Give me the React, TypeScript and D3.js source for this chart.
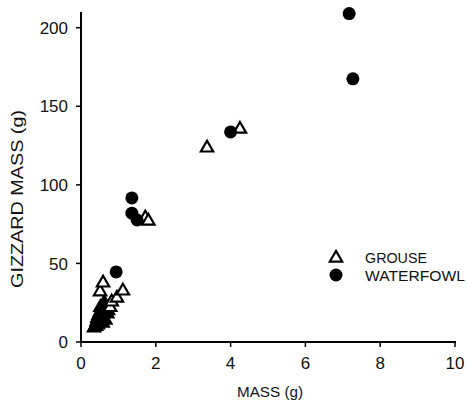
import React from "react";
import * as d3 from "d3";

// Body mass (g) vs gizzard mass (g).
const grouseX = [0.35, 0.38, 0.4, 0.43, 0.45, 0.42, 0.48, 0.46, 0.5, 0.47, 0.53, 0.51, 0.55, 0.57, 0.6, 0.62, 0.58, 0.65, 0.7, 0.72, 0.52, 0.44, 0.49, 0.56, 0.78, 0.82, 0.96, 0.51, 0.59, 1.12, 1.72, 1.8, 3.37, 4.25];
const grouseY = [9, 10, 10, 12, 11, 13, 14, 15.5, 16, 17, 18, 19, 20, 21, 23, 25, 12, 14, 18, 20, 22, 15, 12.5, 16, 22, 25.5, 28, 32, 37.6, 32.5, 79, 77, 123.5, 135.5];
const waterfowlX = [0.94, 1.36, 1.36, 1.5, 4.0, 7.17, 7.27];
const waterfowlY = [44.6, 91.7, 82, 77.7, 133.7, 209, 167.5];
const xTicks = [0, 2, 4, 6, 8, 10];
const yTicks = [0, 50, 100, 150, 200];

const width = 467;
const height = 407;
const font = "Arial, 'Liberation Sans', sans-serif";

const App = () => {
  const x = d3.scaleLinear().domain([0, 10]).range([81, 455]);
  const y = d3.scaleLinear().domain([0, 210]).range([342, 12]);

  const tri = d3.symbol().type(d3.symbolTriangle).size(66)();
  const grouse = grouseX.map((v, i) => ({ x: v, y: grouseY[i] }));
  const fowl = waterfowlX.map((v, i) => ({ x: v, y: waterfowlY[i] }));

  return (
    <svg
      width={width}
      height={height}
      style={{ position: "absolute", left: 0, top: 0, background: "#fff" }}
      fontFamily={font}
      fill="#111"
    >
      {/* axes */}
      <line x1={x(0)} x2={x(0)} y1={y(210)} y2={y(0) + 1} stroke="#000" strokeWidth={2} />
      <line x1={x(0) - 1} x2={x(10) + 1} y1={y(0)} y2={y(0)} stroke="#000" strokeWidth={2} />
      {yTicks.map((t) => (
        <g key={"y" + t}>
          <line x1={x(0) - 5} x2={x(0)} y1={y(t)} y2={y(t)} stroke="#000" strokeWidth={1.5} />
          <text x={68} y={y(t)} dy="0.36em" textAnchor="end" fontSize={17}>
            {t}
          </text>
        </g>
      ))}
      {xTicks.map((t) => (
        <g key={"x" + t}>
          <line x1={x(t)} x2={x(t)} y1={y(0)} y2={y(0) + 5} stroke="#000" strokeWidth={1.5} />
          <text x={x(t)} y={369} textAnchor="middle" fontSize={17}>
            {t}
          </text>
        </g>
      ))}
      <text x={237} y={397} fontSize={14} textLength={66} lengthAdjust="spacingAndGlyphs">
        MASS (g)
      </text>
      <text
        transform="translate(23,199) rotate(-90)"
        x={-89}
        fontSize={16}
        textLength={178}
        lengthAdjust="spacingAndGlyphs"
      >
        GIZZARD MASS (g)
      </text>

      {/* points */}
      {grouse.map((d, i) => (
        <path
          key={"g" + i}
          d={tri || ""}
          transform={`translate(${x(d.x)},${y(d.y)})`}
          fill={i < 24 ? "#000" : "#fff"}
          stroke="#000"
          strokeWidth={2.2}
        />
      ))}
      {fowl.map((d, i) => (
        <circle key={"w" + i} cx={x(d.x)} cy={y(d.y)} r={6.5} fill="#000" />
      ))}

      {/* legend */}
      <path d={tri || ""} transform="translate(336,258)" fill="#fff" stroke="#000" strokeWidth={2.2} />
      <text x={365} y={263} fontSize={14} textLength={62} lengthAdjust="spacingAndGlyphs">GROUSE</text>
      <circle cx={336} cy={275} r={6.5} fill="#000" />
      <text x={365} y={280.5} fontSize={14} textLength={100} lengthAdjust="spacingAndGlyphs">WATERFOWL</text>
    </svg>
  );
};

export default App;
